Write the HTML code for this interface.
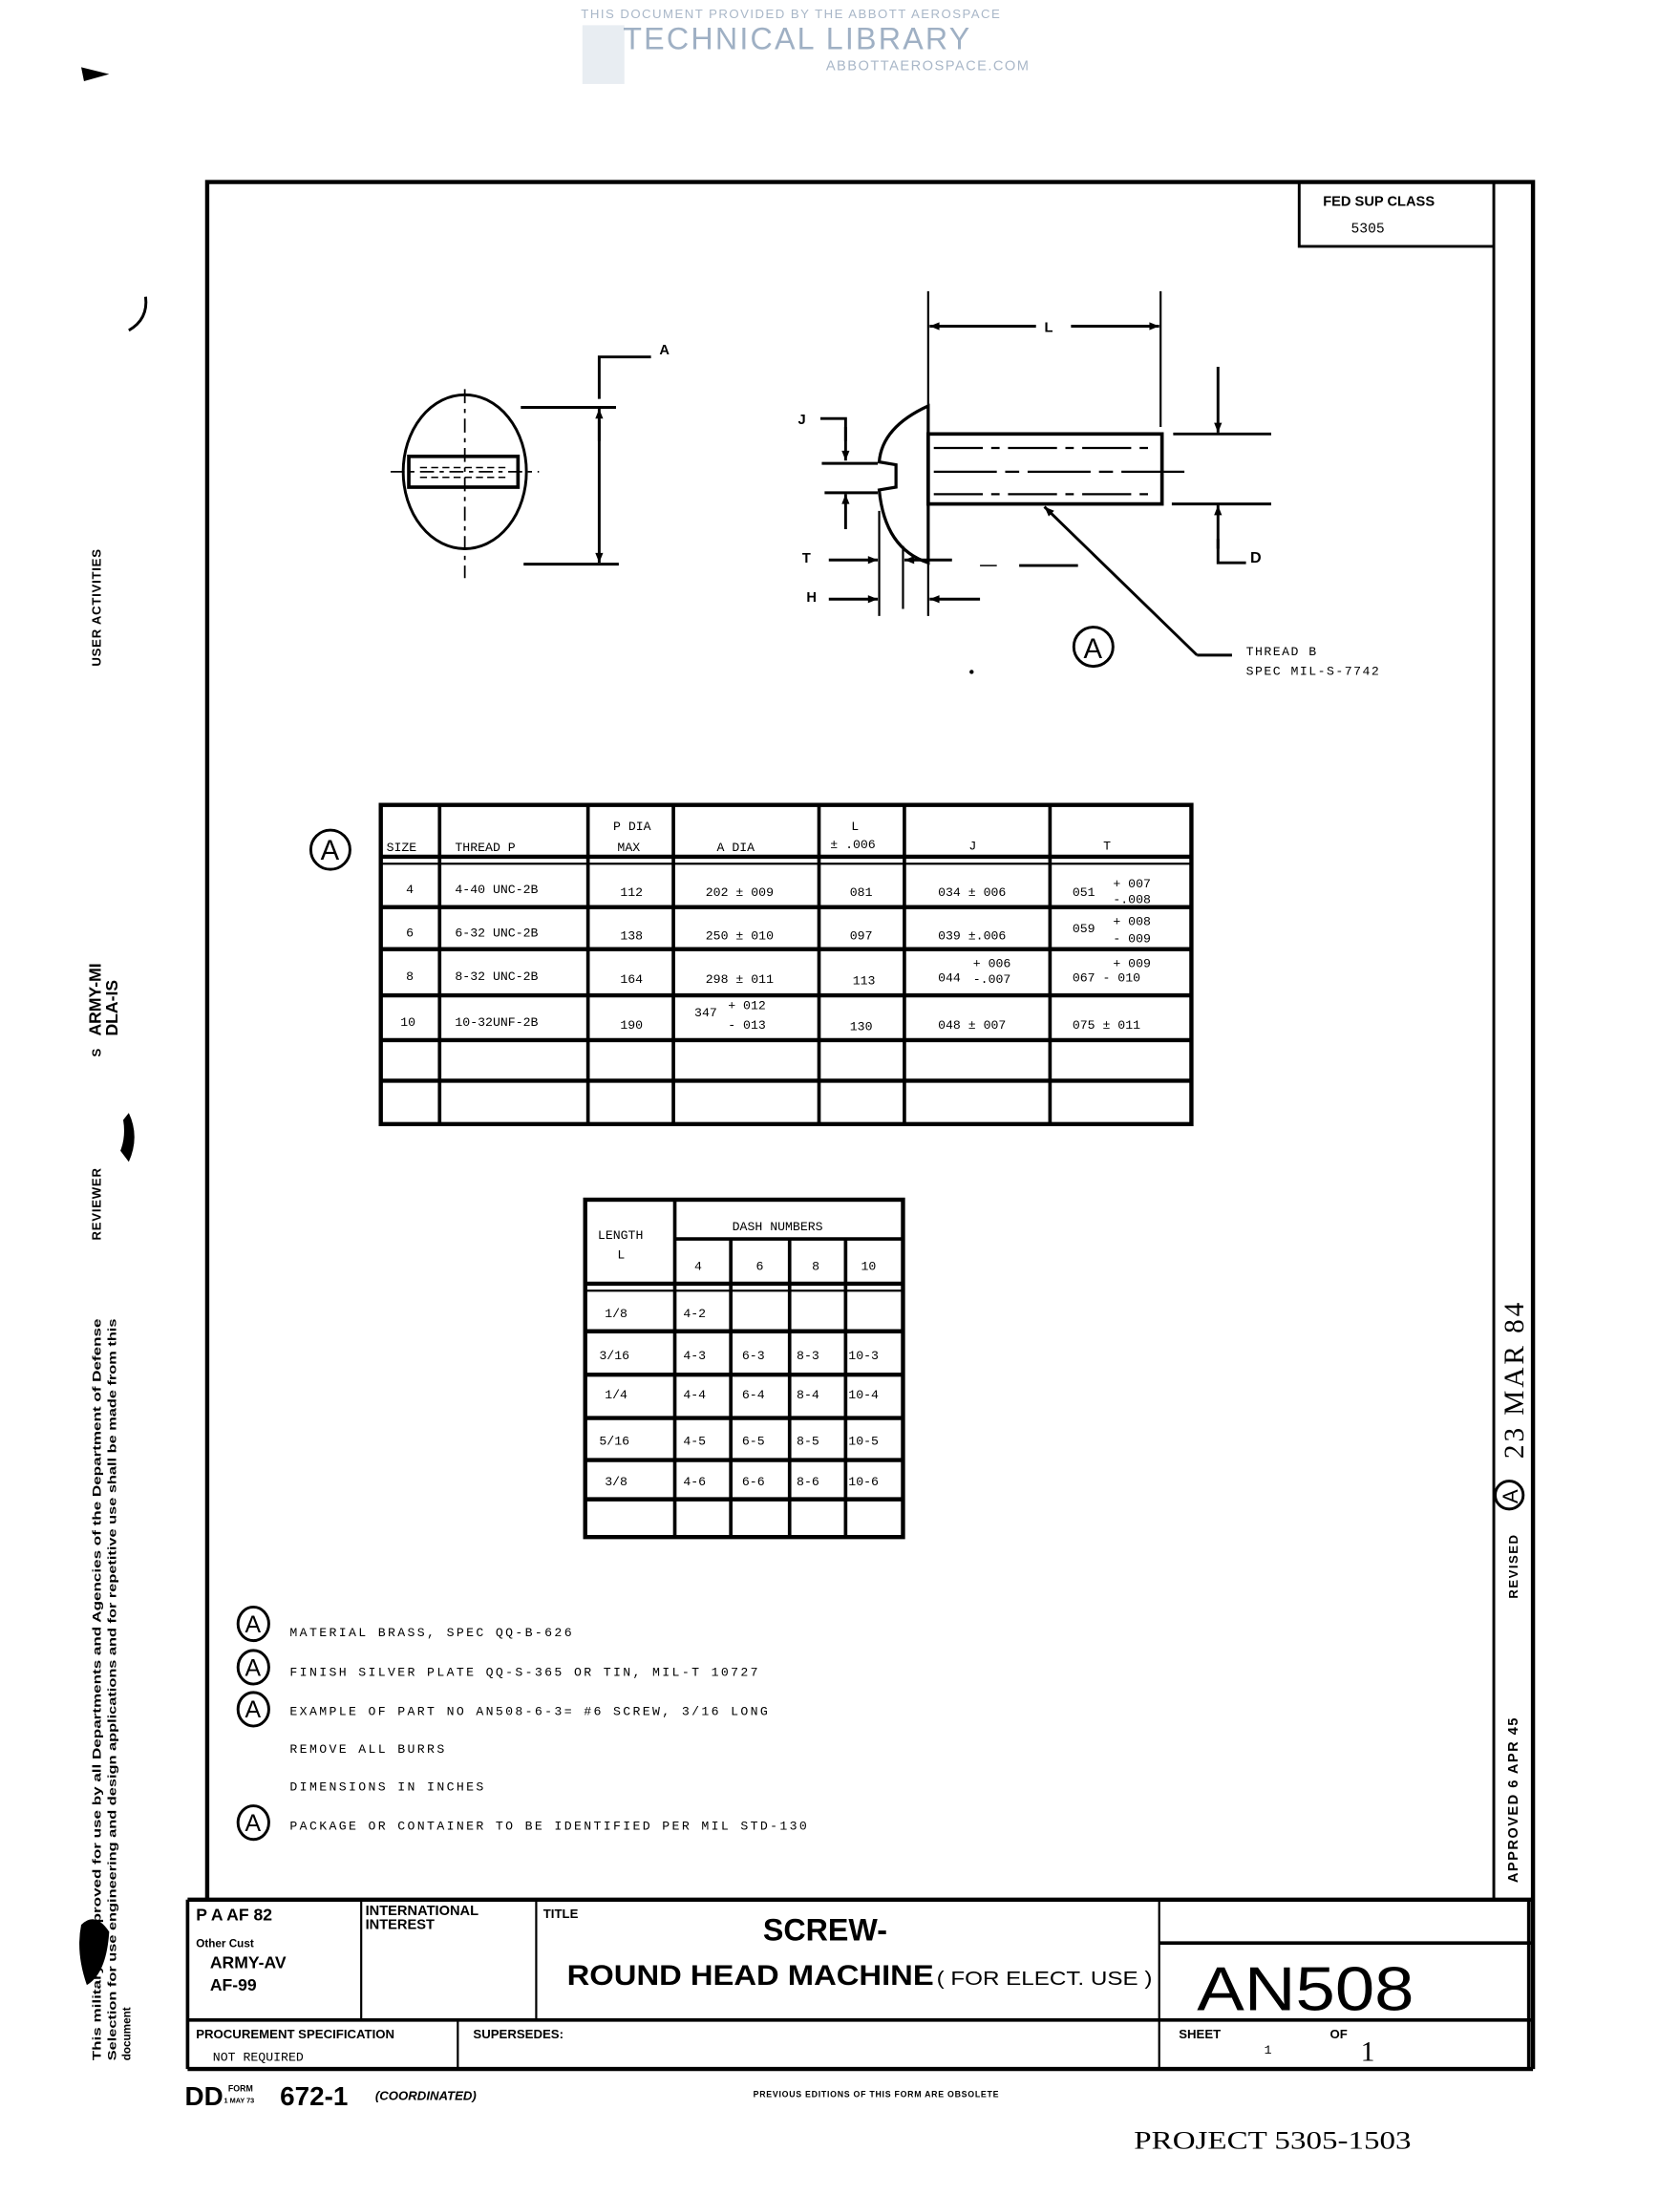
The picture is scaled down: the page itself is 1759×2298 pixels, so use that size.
<!DOCTYPE html>
<html><head><meta charset="utf-8"><style>
html,body{margin:0;padding:0;background:#fff;}
svg{display:block;}
text{font-family:"Liberation Mono",monospace;fill:#000;}
.s{font-family:"Liberation Sans",sans-serif;}
.b{font-family:"Liberation Sans",sans-serif;font-weight:bold;}
</style></head><body>
<svg width="1759" height="2298" viewBox="0 0 1200 1568" preserveAspectRatio="none" xmlns="http://www.w3.org/2000/svg">
<defs>
<marker id="ar" viewBox="0 0 10 10" refX="10" refY="5" markerWidth="14" markerHeight="7" orient="auto-start-reverse" markerUnits="userSpaceOnUse"><path d="M0,1 L10,5 L0,9z" fill="#000"/></marker>
</defs>
<!-- watermark -->
<g>
<rect x="416" y="18" width="30" height="42" fill="#e8edf2"/>
<text x="415" y="13" class="s" font-size="9" style="fill:#a9b7c8" letter-spacing="1">THIS DOCUMENT PROVIDED BY THE ABBOTT AEROSPACE</text>
<text x="445" y="35" class="s" font-size="22" style="fill:#9fb0c4" letter-spacing="1.5">TECHNICAL LIBRARY</text>
<text x="590" y="50" class="s" font-size="10" style="fill:#a9b7c8" letter-spacing="1">ABBOTTAEROSPACE.COM</text>
</g>
<path d="M58,48 L78,53 L60,58z" fill="#000"/>
<path d="M104,212 Q106,228 92,236" stroke="#000" stroke-width="2" fill="none"/>

<!-- border -->
<g stroke="#000" fill="none">
<polyline points="148,1357 148,130 1095,130 1095,1478" stroke-width="3"/>
<line x1="1067" y1="130" x2="1067" y2="1357" stroke-width="2"/>
<polyline points="928,130 928,176 1067,176" stroke-width="2"/>
</g>
<text x="945" y="147" class="b" font-size="10">FED SUP CLASS</text>
<text x="965" y="166" font-size="10">5305</text>

<!-- front view -->
<g stroke="#000" fill="none" stroke-width="2">
<ellipse cx="332" cy="337" rx="44" ry="55"/>
<rect x="292" y="326" width="78" height="22" stroke-width="2.5"/>
<line x1="332" y1="278" x2="332" y2="413" stroke-width="1.2" stroke-dasharray="10,4,3,4"/>
<line x1="279" y1="337" x2="385" y2="337" stroke-width="1.2" stroke-dasharray="10,4,3,4"/>
<line x1="300" y1="334" x2="362" y2="334" stroke-width="1" stroke-dasharray="5,3"/>
<line x1="300" y1="341" x2="362" y2="341" stroke-width="1" stroke-dasharray="5,3"/>
<line x1="372" y1="291" x2="440" y2="291"/>
<line x1="374" y1="403" x2="442" y2="403"/>
<polyline points="465,255 428,255 428,285"/>
<line x1="428" y1="315" x2="428" y2="292" marker-end="url(#ar)"/>
<line x1="428" y1="300" x2="428" y2="402" marker-end="url(#ar)"/>
</g>
<text x="471" y="253" class="b" font-size="10">A</text>

<!-- side view -->
<g stroke="#000" fill="none" stroke-width="2">
<path d="M663,290 Q630,305 628,330 L640,332 L640,348 L628,350 Q632,392 663,402 Z" stroke-width="2.2"/>
<rect x="663" y="310" width="167" height="50" stroke-width="2.5"/>
<line x1="667" y1="320" x2="826" y2="320" stroke-width="1.5" stroke-dasharray="35,6,6,6"/>
<line x1="667" y1="337" x2="850" y2="337" stroke-width="1.5" stroke-dasharray="45,6,10,6"/>
<line x1="667" y1="353" x2="826" y2="353" stroke-width="1.5" stroke-dasharray="35,6,6,6"/>
<line x1="663" y1="208" x2="663" y2="440" stroke-width="1.5"/>
<line x1="829" y1="208" x2="829" y2="305" stroke-width="1.5"/>
<line x1="740" y1="233" x2="664" y2="233" marker-end="url(#ar)"/>
<line x1="765" y1="233" x2="828" y2="233" marker-end="url(#ar)"/>
<line x1="838" y1="310" x2="908" y2="310"/>
<line x1="837" y1="360" x2="908" y2="360"/>
<line x1="870" y1="262" x2="870" y2="309" marker-end="url(#ar)"/>
<polyline points="890,402 870,402 870,385"/>
<line x1="870" y1="392" x2="870" y2="361" marker-end="url(#ar)"/>
<polyline points="586,299 604,299 604,315"/>
<line x1="604" y1="305" x2="604" y2="329" marker-end="url(#ar)"/>
<line x1="587" y1="331" x2="627" y2="331"/>
<line x1="589" y1="352" x2="627" y2="352"/>
<line x1="604" y1="378" x2="604" y2="353" marker-end="url(#ar)"/>
<line x1="628" y1="365" x2="628" y2="440" stroke-width="1.5"/>
<line x1="645" y1="390" x2="645" y2="435" stroke-width="1.5"/>
<line x1="592" y1="400" x2="627" y2="400" marker-end="url(#ar)"/>
<line x1="680" y1="400" x2="646" y2="400" marker-end="url(#ar)"/>
<line x1="592" y1="428" x2="627" y2="428" marker-end="url(#ar)"/>
<line x1="700" y1="428" x2="664" y2="428" marker-end="url(#ar)"/>
<line x1="728" y1="404" x2="770" y2="404" stroke-width="2"/>
<line x1="700" y1="404" x2="712" y2="404" stroke-width="1"/>
<line x1="855" y1="468" x2="746" y2="362" marker-end="url(#ar)"/>
<line x1="855" y1="468" x2="880" y2="468"/>
<circle cx="781" cy="462" r="14"/>
</g>
<text x="570" y="303" class="b" font-size="10">J</text>
<text x="573" y="402" class="b" font-size="10">T</text>
<text x="576" y="430" class="b" font-size="10">H</text>
<text x="746" y="237" class="b" font-size="10">L</text>
<text x="893" y="402" class="b" font-size="11">D</text>
<text x="774" y="470" class="s" font-size="20">A</text>
<text x="890" y="468" font-size="9" letter-spacing="1">THREAD B</text>
<text x="890" y="482" font-size="9" letter-spacing="1">SPEC MIL-S-7742</text>
<circle cx="694" cy="480" r="1.5" fill="#000"/>

<!-- main table -->
<circle cx="236" cy="607" r="14" stroke="#000" stroke-width="2" fill="none"/>
<text x="229" y="614" class="s" font-size="20">A</text>
<g stroke="#000" fill="none" stroke-width="2.5">
<rect x="272" y="575" width="579" height="228" stroke-width="3"/>
<line x1="314" y1="575" x2="314" y2="803"/>
<line x1="420" y1="575" x2="420" y2="803"/>
<line x1="481" y1="575" x2="481" y2="803"/>
<line x1="585" y1="575" x2="585" y2="803"/>
<line x1="646" y1="575" x2="646" y2="803"/>
<line x1="750" y1="575" x2="750" y2="803"/>
<line x1="272" y1="612" x2="851" y2="612" stroke-width="3"/>
<line x1="272" y1="617" x2="851" y2="617" stroke-width="1.5"/>
<line x1="272" y1="648" x2="851" y2="648" stroke-width="3"/>
<line x1="272" y1="678" x2="851" y2="678" stroke-width="3"/>
<line x1="272" y1="711" x2="851" y2="711" stroke-width="3"/>
<line x1="272" y1="743" x2="851" y2="743" stroke-width="3"/>
<line x1="272" y1="772" x2="851" y2="772" stroke-width="3"/>
</g>
<g font-size="9">
<text x="276" y="608">SIZE</text><text x="325" y="608">THREAD P</text>
<text x="438" y="593">P DIA</text><text x="441" y="608">MAX</text>
<text x="512" y="608">A DIA</text><text x="608" y="593">L</text><text x="593" y="606">± .006</text>
<text x="692" y="607">J</text><text x="788" y="607">T</text>
<text x="290" y="638">4</text><text x="325" y="638">4-40 UNC-2B</text><text x="443" y="640">112</text><text x="504" y="640">202 ± 009</text><text x="607" y="640">081</text><text x="670" y="640">034 ± 006</text><text x="766" y="640">051</text><text x="795" y="634">+ 007</text><text x="795" y="645">-.008</text>
<text x="290" y="669">6</text><text x="325" y="669">6-32 UNC-2B</text><text x="443" y="671">138</text><text x="504" y="671">250 ± 010</text><text x="607" y="671">097</text><text x="670" y="671">039 ±.006</text><text x="766" y="666">059</text><text x="795" y="661">+ 008</text><text x="795" y="673">- 009</text>
<text x="290" y="700">8</text><text x="325" y="700">8-32 UNC-2B</text><text x="443" y="702">164</text><text x="504" y="702">298 ± 011</text><text x="609" y="703">113</text><text x="670" y="701">044</text><text x="695" y="691">+ 006</text><text x="695" y="702">-.007</text><text x="766" y="701">067 - 010</text><text x="795" y="691">+ 009</text>
<text x="286" y="733">10</text><text x="325" y="733">10-32UNF-2B</text><text x="443" y="735">190</text><text x="496" y="726">347</text><text x="520" y="721">+ 012</text><text x="520" y="735">- 013</text><text x="607" y="736">130</text><text x="670" y="735">048 ± 007</text><text x="766" y="735">075 ± 011</text>
</g>

<!-- dash table -->
<g stroke="#000" fill="none" stroke-width="2.5">
<rect x="418" y="857" width="227" height="241" stroke-width="3"/>
<line x1="482" y1="857" x2="482" y2="1098"/>
<line x1="482" y1="885" x2="645" y2="885"/>
<line x1="522" y1="885" x2="522" y2="1098"/>
<line x1="564" y1="885" x2="564" y2="1098"/>
<line x1="604" y1="885" x2="604" y2="1098"/>
<line x1="418" y1="917" x2="645" y2="917" stroke-width="3"/>
<line x1="418" y1="922" x2="645" y2="922" stroke-width="1.5"/>
<line x1="418" y1="951" x2="645" y2="951" stroke-width="3"/>
<line x1="418" y1="982" x2="645" y2="982" stroke-width="3"/>
<line x1="418" y1="1013" x2="645" y2="1013" stroke-width="3"/>
<line x1="418" y1="1043" x2="645" y2="1043" stroke-width="3"/>
<line x1="418" y1="1071" x2="645" y2="1071" stroke-width="3"/>
</g>
<g font-size="9">
<text x="427" y="885">LENGTH</text><text x="441" y="899">L</text>
<text x="523" y="879">DASH NUMBERS</text>
<text x="496" y="907">4</text><text x="540" y="907">6</text><text x="580" y="907">8</text><text x="615" y="907">10</text>
<text x="432" y="941">1/8</text><text x="488" y="941">4-2</text>
<text x="428" y="971">3/16</text><text x="488" y="971">4-3</text><text x="530" y="971">6-3</text><text x="569" y="971">8-3</text><text x="606" y="971">10-3</text>
<text x="432" y="999">1/4</text><text x="488" y="999">4-4</text><text x="530" y="999">6-4</text><text x="569" y="999">8-4</text><text x="606" y="999">10-4</text>
<text x="428" y="1032">5/16</text><text x="488" y="1032">4-5</text><text x="530" y="1032">6-5</text><text x="569" y="1032">8-5</text><text x="606" y="1032">10-5</text>
<text x="432" y="1061">3/8</text><text x="488" y="1061">4-6</text><text x="530" y="1061">6-6</text><text x="569" y="1061">8-6</text><text x="606" y="1061">10-6</text>
</g>

<!-- notes -->
<g stroke="#000" stroke-width="2" fill="none">
<ellipse cx="181" cy="1160" rx="11" ry="12"/>
<ellipse cx="181" cy="1191" rx="11" ry="12"/>
<ellipse cx="181" cy="1221" rx="11" ry="12"/>
<ellipse cx="181" cy="1302" rx="11" ry="12"/>
</g>
<g class="s" font-size="17">
<text x="175" y="1166" class="s">A</text><text x="175" y="1197" class="s">A</text><text x="175" y="1227" class="s">A</text><text x="175" y="1308" class="s">A</text>
</g>
<g font-size="9" letter-spacing="1.6">
<text x="207" y="1169">MATERIAL   BRASS, SPEC QQ-B-626</text>
<text x="207" y="1197">FINISH   SILVER PLATE  QQ-S-365 OR TIN, MIL-T 10727</text>
<text x="207" y="1225">EXAMPLE OF PART NO    AN508-6-3= #6 SCREW, 3/16 LONG</text>
<text x="207" y="1252">REMOVE ALL BURRS</text>
<text x="207" y="1279">DIMENSIONS IN INCHES</text>
<text x="207" y="1307">PACKAGE OR CONTAINER TO BE IDENTIFIED PER MIL STD-130</text>
</g>

<!-- right strip -->
<text transform="translate(1084,1345) rotate(-90)" class="b" font-size="10" letter-spacing="1">APPROVED  6  APR 45</text>
<text transform="translate(1084,1142) rotate(-90)" class="b" font-size="9" letter-spacing="1">REVISED</text>
<circle cx="1078" cy="1068" r="10" stroke="#000" stroke-width="2" fill="none"/>
<text transform="translate(1084,1074) rotate(-90)" class="s" font-size="15">A</text>
<text transform="translate(1088,1042) rotate(-90)" font-size="20" letter-spacing="2" style="font-family:'Liberation Serif',serif">23 MAR 84</text>

<!-- left margin -->
<text transform="translate(72,476) rotate(-90)" class="b" font-size="9" letter-spacing="0.5">USER ACTIVITIES</text>
<text transform="translate(72,886) rotate(-90)" class="b" font-size="9" letter-spacing="0.5">REVIEWER</text>
<text transform="translate(72,755) rotate(-90)" class="b" font-size="9">S</text>
<text transform="translate(72,740) rotate(-90)" class="b" font-size="12">ARMY-MI</text>
<text transform="translate(84,740) rotate(-90)" class="b" font-size="12">DLA-IS</text>
<path d="M92,795 Q100,812 92,830 L86,822 Q90,812 88,800z" fill="#000"/>
<path d="M58,1375 Q68,1365 78,1380 Q76,1410 62,1418 Q54,1395 58,1375z" fill="#000"/>
<g class="b" font-size="8">
<text transform="translate(72,1472) rotate(-90)" class="b" textLength="530" lengthAdjust="spacingAndGlyphs">This military  ... approved for use by all Departments and Agencies of the Department of Defense</text>
<text transform="translate(83,1472) rotate(-90)" class="b" textLength="530" lengthAdjust="spacingAndGlyphs">Selection for use engineering and design applications and for repetitive use shall be made from this</text>
<text transform="translate(93,1472) rotate(-90)" class="b">document</text>
</g>

<!-- title block -->
<g stroke="#000" fill="none" stroke-width="2.5">
<line x1="134" y1="1357" x2="1095" y2="1357" stroke-width="3"/>
<line x1="134" y1="1357" x2="134" y2="1478"/>
<line x1="134" y1="1478" x2="1095" y2="1478" stroke-width="3"/>
<line x1="258" y1="1357" x2="258" y2="1443" stroke-width="1.5"/>
<line x1="383" y1="1357" x2="383" y2="1443" stroke-width="1.5"/>
<line x1="828" y1="1357" x2="828" y2="1478" stroke-width="1.5"/>
<line x1="134" y1="1443" x2="1095" y2="1443"/>
<line x1="327" y1="1443" x2="327" y2="1478" stroke-width="1.5"/>
<line x1="828" y1="1388" x2="1095" y2="1388"/>
<line x1="1092" y1="1357" x2="1092" y2="1478"/>
</g>
<text x="140" y="1372" class="b" font-size="12">P A  AF 82</text>
<text x="140" y="1391" class="b" font-size="8">Other Cust</text>
<text x="150" y="1406" class="b" font-size="12">ARMY-AV</text>
<text x="150" y="1422" class="b" font-size="12">AF-99</text>
<text x="261" y="1368" class="b" font-size="10">INTERNATIONAL</text>
<text x="261" y="1378" class="b" font-size="10">INTEREST</text>
<text x="388" y="1370" class="b" font-size="9">TITLE</text>
<text x="545" y="1386" class="b" font-size="22">SCREW-</text>
<text x="405" y="1418" class="b" font-size="20" textLength="262" lengthAdjust="spacingAndGlyphs">ROUND HEAD MACHINE</text>
<text x="669" y="1418" class="s" font-size="14" textLength="154" lengthAdjust="spacingAndGlyphs">( FOR ELECT. USE )</text>
<text x="855" y="1436" class="s" font-size="44" textLength="155" lengthAdjust="spacingAndGlyphs">AN508</text>
<text x="140" y="1456" class="b" font-size="9">PROCUREMENT SPECIFICATION</text>
<text x="152" y="1472" font-size="9">NOT  REQUIRED</text>
<text x="338" y="1456" class="b" font-size="9">SUPERSEDES:</text>
<text x="842" y="1456" class="b" font-size="9">SHEET</text>
<text x="903" y="1467" font-size="9">1</text>
<text x="950" y="1456" class="b" font-size="9">OF</text>
<text x="972" y="1472" font-size="20" style="font-family:'Liberation Serif',serif">1</text>

<text x="132" y="1504" class="b" font-size="19">DD</text>
<text x="163" y="1494" class="b" font-size="6">FORM</text>
<text x="160" y="1502" class="b" font-size="5">1 MAY 73</text>
<text x="200" y="1504" class="b" font-size="19">672-1</text>
<text x="268" y="1500" class="b" font-size="9" font-style="italic">(COORDINATED)</text>
<text x="538" y="1498" class="b" font-size="6" letter-spacing="0.5">PREVIOUS EDITIONS OF THIS FORM ARE OBSOLETE</text>
<text x="810" y="1535" font-size="18" style="font-family:'Liberation Serif',serif" textLength="198" lengthAdjust="spacingAndGlyphs">PROJECT 5305-1503</text>
</svg>
</body></html>
